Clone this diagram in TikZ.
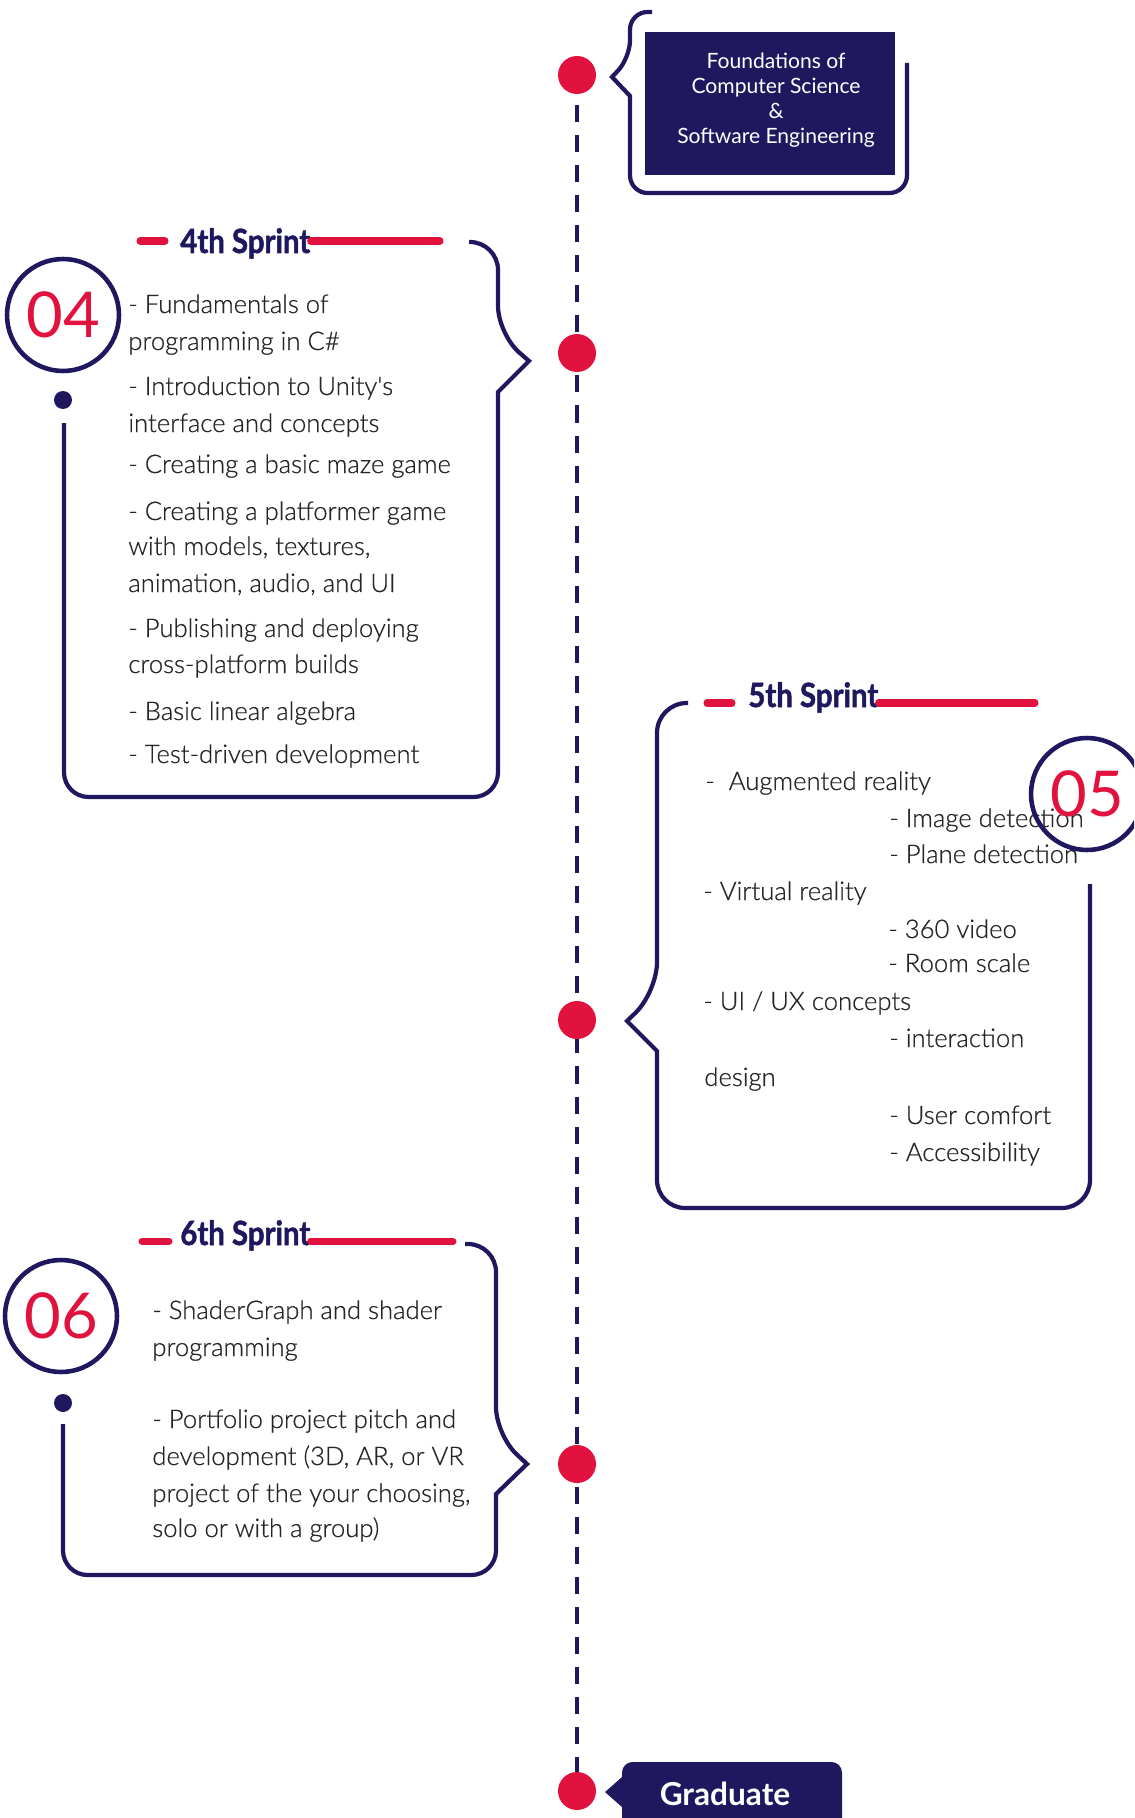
\documentclass[tikz,border=0pt]{standalone}
\usepackage{fontspec}
\setmainfont{Lato}[UprightFont=* Light, BoldFont=* Bold, UprightFeatures={FakeBold=0.6}]
\newfontfamily\regfont{Lato}
\newfontfamily\sprintfont{Lato}[FakeStretch=0.88, FakeBold=1.5]
\definecolor{navy}{RGB}{31,24,94}
\definecolor{sprintred}{RGB}{225,18,62}

\begin{document}
\begin{tikzpicture}[x=0.02cm, y=-0.02cm,
    bracket/.style={draw=navy, line width=2.4pt},
    redline/.style={draw=sprintred, line width=4pt, line cap=round},
    timeline/.style={draw=navy, line width=2pt, dash pattern=on 9.7pt off 7.4pt},
    reddot/.style={circle, fill=sprintred, minimum size=0.76cm, inner sep=0},
    navydot/.style={circle, fill=navy, minimum size=0.36cm, inner sep=0},
    numring/.style={circle, draw=navy, line width=2.6pt, minimum size=2.24cm, inner sep=0,
        text=sprintred, font=\regfont\fontsize{36pt}{36pt}\selectfont},
    sprint/.style={anchor=base west, inner sep=0, text=navy,
        font=\sprintfont\bfseries\fontsize{19pt}{19pt}\selectfont},
    item/.style={anchor=base west, inner sep=0, text=black!85,
        font=\fontsize{14.6pt}{14.6pt}\selectfont}]
    \path[use as bounding box] (0,0) rectangle (1134,1818);
    \clip (0,0) rectangle (1134,1818);

    % Timeline
    \coordinate (t1) at (577,75);
    \coordinate (t5) at (577,1791);
    \draw[timeline] (t1) -- (t5);
    \node[reddot] (d1) at (t1) {};
    \node[reddot] (d2) at (577,353) {};
    \node[reddot] (d3) at (577,1020) {};
    \node[reddot] (d4) at (577,1464) {};
    \node[reddot] (d5) at (t5) {};

    % Foundations box
    \fill[navy] (645,32) rectangle (895,175);
    \draw[bracket] (652,12) [rounded corners=10pt] -- (630,12) -- (630,58) [sharp corners]
        -- (612,77) -- (630,96) [rounded corners=10pt] -- (630,193) -- (907,193) -- (907,63);
    \node[align=center, text=white, inner sep=0, font=\regfont\fontsize{12pt}{14.2pt}\selectfont]
        (found) at (776,100) {Foundations of\\Computer Science\\\&\\Software Engineering};

    % 4th Sprint
    \draw[redline] (140,241) -- (165,241);
    \node[sprint] (h4) at (180,253) {4th Sprint};
    \coordinate (r4) at (440,241);
    \draw[redline] (h4.east |- r4) -- (r4);
    \draw[bracket] (469,242) [rounded corners=16pt] -- (498,242) -- (498,334) [sharp corners]
        -- (529,361) -- (498,392) [rounded corners=14pt] -- (498,797) -- (64,797) -- (64,423);
    \node[numring] (n4) at (63,315) {04};
    \node[navydot] (p4) at (63,400) {};
    \foreach \y/\t [count=\i] in {313/{- Fundamentals of}, 350/{programming in C\#},
        395/{- Introduction to Unity\textquotesingle s}, 432/{interface and concepts},
        473/{- Creating a basic maze game}, 520/{- Creating a platformer game},
        555/{with models, textures,}, 592/{animation, audio, and UI},
        637/{- Publishing and deploying}, 673/{cross-platform builds},
        720/{- Basic linear algebra}, 763/{- Test-driven development}}
        \node[item] (s4-\i) at (128,\y) {\t};

    % 5th Sprint
    \draw[redline] (707,703) -- (732,703);
    \node[sprint] (h5) at (748,707) {5th Sprint};
    \coordinate (r5) at (1035,703);
    \draw[redline] (h5.east |- r5) -- (r5);
    \draw[bracket] (688,703) [rounded corners=17pt] -- (657,703) -- (657,992) [sharp corners]
        -- (627,1021) -- (657,1051) [rounded corners=16pt] -- (657,1208) -- (1090,1208) -- (1090,884);
    \foreach \x/\y/\t [count=\i] in {705/790/{-\ \ Augmented reality},
        889/827/{- Image detection}, 889/863/{- Plane detection},
        703/900/{- Virtual reality}, 888/938/{- 360 video}, 888/972/{- Room scale},
        703/1010/{- UI / UX concepts}, 889/1047/{- interaction}, 704/1086/{design},
        889/1124/{- User comfort}, 889/1161/{- Accessibility}}
        \node[item] (s5-\i) at (\x,\y) {\t};
    \node[numring] (n5) at (1087,794) {05};

    % 6th Sprint
    \draw[redline] (142,1241) -- (169,1241);
    \node[sprint] (h6) at (180,1245) {6th Sprint};
    \coordinate (r6) at (453,1241);
    \draw[redline] (h6.east |- r6) -- (r6);
    \draw[bracket] (465,1244) [rounded corners=16pt] -- (496,1244) -- (496,1435) [sharp corners]
        -- (527,1464) -- (496,1494) [rounded corners=14pt] -- (496,1575) -- (63,1575) -- (63,1424);
    \node[numring] (n6) at (61,1316) {06};
    \node[navydot] (p6) at (63,1403) {};
    \foreach \y/\t [count=\i] in {1319/{- ShaderGraph and shader}, 1356/{programming},
        1428/{- Portfolio project pitch and}, 1465/{development (3D, AR, or VR},
        1502/{project of the your choosing,}, 1537/{solo or with a group)}}
        \node[item] (s6-\i) at (152,\y) {\t};

    % Graduate
    \fill[navy] (622,1830) -- (622,1807) -- (605,1792) -- (622,1777) [rounded corners=6pt]
        -- (622,1762) -- (842,1762) -- (842,1830);
    \node[text=white, anchor=base, inner sep=0, font=\bfseries\fontsize{18pt}{18pt}\selectfont]
        (grad) at (725,1805) {Graduate};
\end{tikzpicture}
\end{document}
